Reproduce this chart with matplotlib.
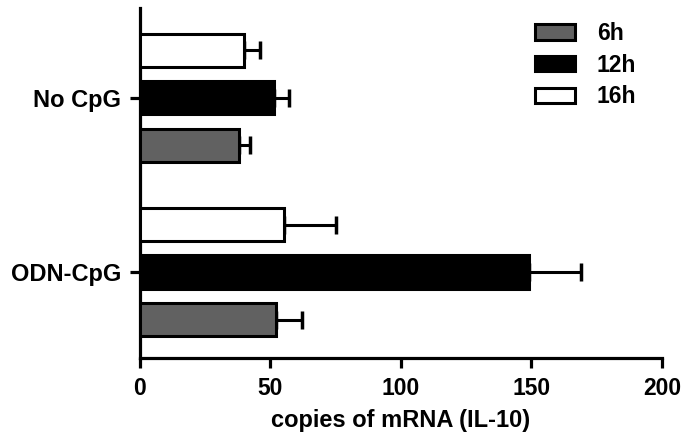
import matplotlib.pyplot as plt
import numpy as np

plt.rcParams['font.family'] = ['Liberation Sans', 'DejaVu Sans']
plt.rcParams['font.weight'] = 'bold'

groups = ['ODN-CpG', 'No CpG']
times = ['6h', '12h', '16h']
means = {'6h': [52, 38], '12h': [149, 51.5], '16h': [55, 40]}
errs = {'6h': [10, 4], '12h': [20, 5.5], '16h': [20, 6]}
colors = {'6h': '#616161', '12h': 'black', '16h': 'white'}

fig = plt.figure(figsize=(6.91, 4.42), dpi=100)
ax = fig.add_axes([0.2026, 0.19, 0.7554, 0.792])

y = np.arange(len(groups))
offsets = [-0.273, 0, 0.273]
h = 0.19
for t, off in zip(times, offsets):
    ax.barh(y + off, means[t], height=h, color=colors[t], edgecolor='black',
            linewidth=2.2, label=t, zorder=3)
    ax.errorbar(means[t], y + off, xerr=[np.zeros(len(groups)), errs[t]],
                fmt='none', ecolor='black', elinewidth=2.2, capsize=6.5,
                capthick=2.5, zorder=2)

ax.set_xlim(0, 200)
ax.set_ylim(-0.494, 1.517)
ax.set_xticks([0, 50, 100, 150, 200])
ax.set_yticks(y)
ax.set_yticklabels(groups)
for s in ['top', 'right']:
    ax.spines[s].set_visible(False)
for s in ['left', 'bottom']:
    ax.spines[s].set_linewidth(2.3)
ax.tick_params(axis='both', width=2.3, length=7.5, labelsize=16.5, pad=6)
ax.tick_params(axis='y', labelsize=17)
for lab in ax.get_xticklabels() + ax.get_yticklabels():
    lab.set_fontweight('bold')
ax.set_xlabel('copies of mRNA (IL-10)', fontsize=17, fontweight='bold', labelpad=7)

ax.legend(loc='upper left', bbox_to_anchor=(535 / 691, 1 - 22 / 442),
          bbox_transform=fig.transFigure, frameon=False, borderpad=0,
          borderaxespad=0, fontsize=16.5, handlelength=1.75, handleheight=0.66,
          handletextpad=0.95, labelspacing=0.38)

fig.savefig('out.png', dpi=100)
